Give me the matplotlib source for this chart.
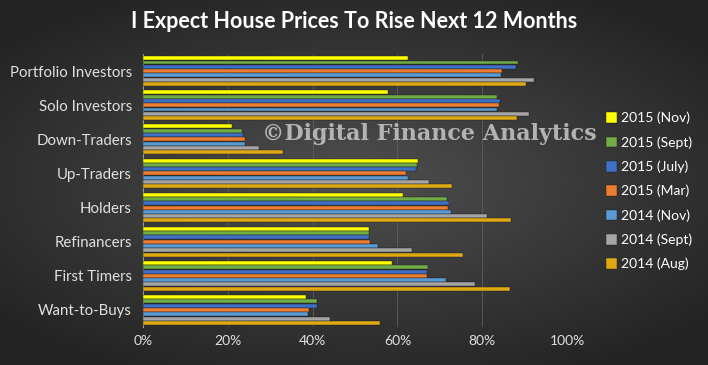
import numpy as np
import matplotlib.pyplot as plt

# Categories (top to bottom) and series (% expecting prices to rise)
categories = ['Portfolio Investors', 'Solo Investors', 'Down-Traders', 'Up-Traders',
              'Holders', 'Refinancers', 'First Timers', 'Want-to-Buys']
series_names = ['2015 (Nov)', '2015 (Sept)', '2015 (July)', '2015 (Mar)',
                '2014 (Nov)', '2014 (Sept)', '2014 (Aug)']
nov15 = [62.4, 57.7, 21.0, 64.8, 61.2, 53.2, 58.8, 38.4]
sep15 = [88.4, 83.4, 23.3, 64.5, 71.6, 53.2, 67.3, 41.1]
jul15 = [88.0, 84.2, 23.5, 64.3, 72.1, 53.4, 67.0, 41.0]
mar15 = [84.6, 84.0, 24.1, 62.1, 72.0, 53.6, 67.0, 39.2]
nov14 = [84.5, 83.5, 24.0, 62.6, 72.6, 55.5, 71.4, 38.8]
sep14 = [92.2, 91.0, 27.4, 67.4, 81.1, 63.4, 78.2, 44.2]
aug14 = [90.3, 88.3, 33.0, 72.9, 86.8, 75.4, 86.5, 55.8]
series = [nov15, sep15, jul15, mar15, nov14, sep14, aug14]
colors = ['#ffff00', '#70ad47', '#3f6fc6', '#ed7d31', '#5b9bd5', '#a5a5a5', '#e0a914']

plt.rcParams['font.family'] = ['Lato', 'DejaVu Sans']

fig = plt.figure(figsize=(7.08, 3.65), dpi=100)

# dark radial background
bg = fig.add_axes([0, 0, 1, 1], zorder=-1)
yy, xx = np.mgrid[-1:1:365j, -1:1:708j]
r = np.clip(np.sqrt(xx ** 2 + (yy / 0.9) ** 2), 0, 1.3)
g = 0.31 - 0.13 * r
bg.imshow(np.dstack([g, g, g]), aspect='auto', extent=[0, 1, 0, 1])
bg.axis('off')

ax = fig.add_axes([0.202, 0.104, 0.599, 0.748])
ax.set_facecolor('none')

n = len(series)
h = 0.88 / n
y = np.arange(len(categories))
for j, (vals, name, c) in enumerate(zip(series, series_names, colors)):
    ax.barh(y - 0.44 + h * (j + 0.5), vals, height=h * 0.92, color=c, label=name,
            edgecolor='#1a1a1a', linewidth=0.3, zorder=3)

ax.set_xlim(0, 100)
ax.set_ylim(len(categories) - 0.5, -0.5)
ax.set_xticks(np.arange(0, 101, 20))
ax.set_xticklabels([f'{v}%' for v in range(0, 101, 20)])
ax.set_yticks(y)
ax.set_yticklabels(categories, fontsize=10.8)
ax.tick_params(colors='#e0e0e0', labelsize=10, length=0, pad=6)
ax.tick_params(axis='y', labelsize=10.8, pad=8)
ax.grid(axis='x', color='#5f5f5f', linewidth=0.6, zorder=0)
for s in ['top', 'right', 'bottom']:
    ax.spines[s].set_visible(False)
ax.spines['left'].set_color('#9a9a9a')

fig.text(0.5, 0.94, 'I Expect House Prices To Rise Next 12 Months', ha='center', va='center',
         color='white', fontsize=15.5, fontweight='bold')

fig.text(0.606, 0.632, '\u00a9Digital Finance Analytics', ha='center', va='center',
         color='#c8c8c8', alpha=0.85, fontsize=16, fontweight='bold',
         family=['DejaVu Serif'])

leg = fig.legend(loc='upper left', bbox_to_anchor=(0.838, 0.728), frameon=False,
                 labelcolor='white', fontsize=10, handlelength=0.8, handleheight=0.8,
                 handletextpad=0.3, labelspacing=0.85)

fig.savefig('out.png', dpi=100)
